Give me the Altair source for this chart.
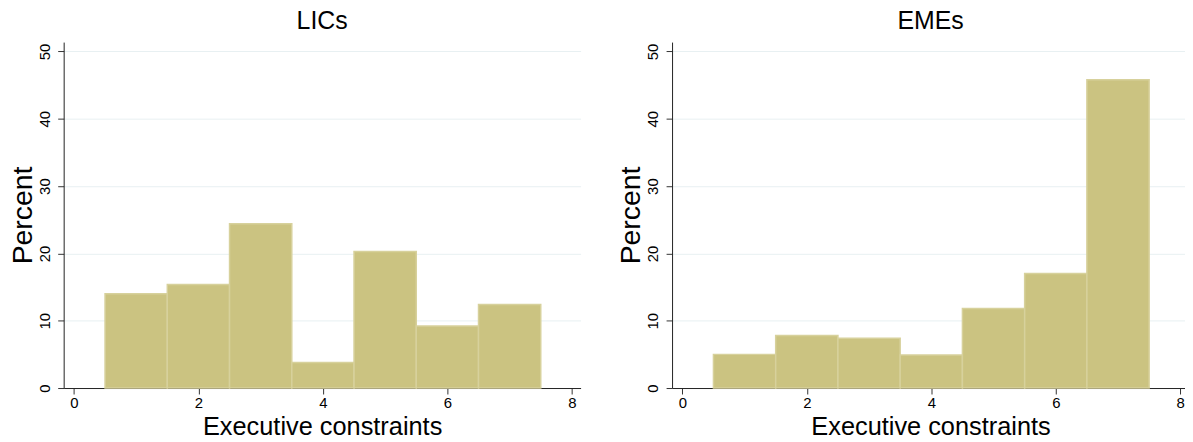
import altair as alt
import pandas as pd

# Data
constraint_levels = [1, 2, 3, 4, 5, 6, 7]
lics_percent = [14.0, 15.4, 24.4, 3.8, 20.3, 9.2, 12.4]
emes_percent = [5.0, 7.8, 7.4, 4.9, 11.8, 17.0, 45.8]
x_ticks = [0, 2, 4, 6, 8]
y_ticks = [0, 10, 20, 30, 40, 50]

FONT = "Liberation Sans"
FILL = "#CBC381"
EDGE = "#D7D19C"


def panel(title, values):
    df = pd.DataFrame({"level": constraint_levels, "pct": values})
    base = alt.Chart(df, title=alt.TitleParams(
        title, fontSize=25, font=FONT, fontWeight="normal", color="#000",
        anchor="middle", offset=8))
    bars = base.transform_calculate(
        lo="datum.level - 0.5", hi="datum.level + 0.5", zero="0"
    ).mark_rect(fill=FILL, stroke=EDGE, strokeWidth=1.5, opacity=1).encode(
        x=alt.X("lo:Q", scale=alt.Scale(domain=[-0.165, 8.14], nice=False, zero=False),
                axis=alt.Axis(values=x_ticks, title="Executive constraints", grid=False,
                              format="d", labelPadding=2, titlePadding=4,
                              titleFontSize=25.5)),
        x2="hi:Q",
        y=alt.Y("pct:Q", scale=alt.Scale(domain=[0, 51.4], nice=False),
                axis=alt.Axis(values=y_ticks, title="Percent", grid=True,
                              labelAngle=-90, labelPadding=5.5, titlePadding=0,
                              titleFontSize=28.5, format="d")),
        y2="zero:Q",
    )
    return bars.properties(width=520, height=348)


chart = alt.hconcat(
    panel("LICs", lics_percent),
    panel("EMEs", emes_percent),
    spacing=36,
).properties(
    padding={"left": 0, "top": 0, "right": -4, "bottom": 0}
).configure_view(stroke=None).configure_axis(
    labelFont=FONT, labelFontSize=15, labelColor="#000",
    titleFont=FONT, titleFontWeight="normal", titleColor="#000",
    tickColor="#333", tickSize=6, tickWidth=1,
    domainColor="#222", domainWidth=1,
    gridColor="#E8F0F2", gridWidth=1,
)

chart.save("out.html", embed_options={"renderer": "svg", "actions": False})
